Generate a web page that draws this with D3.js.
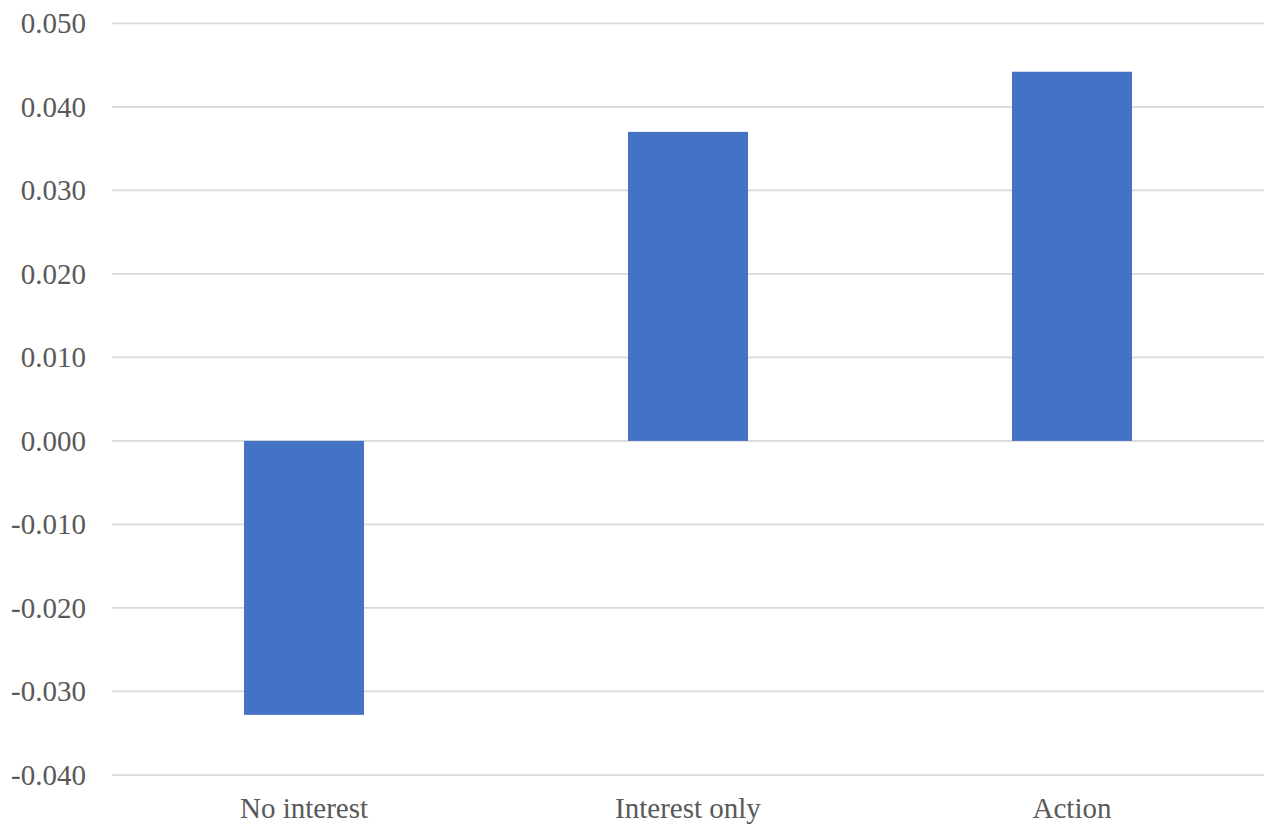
<!DOCTYPE html>
<html><head><meta charset="utf-8">
<script src="https://cdn.jsdelivr.net/npm/d3@7"></script>
<style>body{margin:0;background:#fff}</style>
</head><body>
<svg id="c" width="1271" height="838"></svg>
<script>
const categories = ["No interest", "Interest only", "Action"];
const values = [-0.0328, 0.0370, 0.0442];
const yTicks = [-0.04, -0.03, -0.02, -0.01, 0, 0.01, 0.02, 0.03, 0.04, 0.05];

const svg = d3.select("#c");
const plotLeft = 112, plotRight = 1264, plotTop = 23.3, plotBottom = 775;
const x = d3.scaleBand().domain(categories).range([plotLeft, plotRight]).paddingInner(0.6875).paddingOuter(0.34375);
const y = d3.scaleLinear().domain([-0.04, 0.05]).range([plotBottom, plotTop]);

const font = "'Liberation Serif', 'Times New Roman', serif";

svg.append("g").selectAll("line").data(yTicks).join("line")
  .attr("x1", plotLeft).attr("x2", plotRight)
  .attr("y1", d => y(d)).attr("y2", d => y(d))
  .attr("stroke", "#d9d9d9").attr("stroke-width", 1.75);

svg.append("g").selectAll("text").data(yTicks).join("text")
  .attr("x", 86).attr("y", d => y(d)).attr("dy", "0.34em")
  .attr("text-anchor", "end")
  .attr("font-family", font).attr("font-size", 29).attr("fill", "#595959")
  .text(d => d3.format(".3f")(d).replace("−", "-"));

svg.append("g").selectAll("rect").data(values).join("rect")
  .attr("x", (d, i) => x(categories[i]))
  .attr("width", x.bandwidth())
  .attr("y", d => y(Math.max(0, d)))
  .attr("height", d => Math.abs(y(d) - y(0)))
  .attr("fill", "#4472C4");

svg.append("g").selectAll("text").data(categories).join("text")
  .attr("x", d => x(d) + x.bandwidth() / 2).attr("y", 818)
  .attr("text-anchor", "middle")
  .attr("font-family", font).attr("font-size", 29).attr("fill", "#595959")
  .text(d => d);
</script>
</body></html>
